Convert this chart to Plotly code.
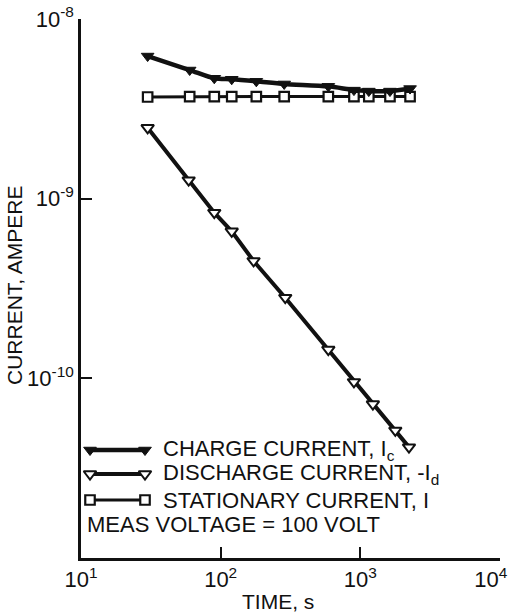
import plotly.graph_objects as go

# ---- measured data -------------------------------------------------------
# charge current I_c (filled triangles)
charge_t = [30, 60, 90, 120, 180, 285, 590, 900, 1150, 1630, 2270]
charge_i = [6.22e-9, 5.20e-9, 4.68e-9, 4.62e-9, 4.50e-9, 4.35e-9,
            4.22e-9, 4.02e-9, 3.97e-9, 3.97e-9, 4.10e-9]

# discharge current -I_d (open triangles)
discharge_t = [30, 59, 90, 120, 172, 290, 590, 900, 1230, 1780, 2230]
discharge_i = [2.48e-9, 1.267e-9, 8.36e-10, 6.58e-10, 4.50e-10, 2.81e-10,
               1.445e-10, 9.55e-11, 7.19e-11, 5.13e-11, 4.14e-11]

# stationary current I (open squares)
stationary_t = [30, 60, 90, 120, 180, 285, 590, 900, 1150, 1630, 2270]
stationary_i = [3.68e-9, 3.70e-9, 3.70e-9, 3.70e-9, 3.70e-9, 3.70e-9,
                3.70e-9, 3.70e-9, 3.70e-9, 3.70e-9, 3.70e-9]

x_tickvals = [10, 100, 1000, 10000]
# trailing no-break spaces nudge the last label in from the page edge
x_ticktext = ["10<sup>1</sup>", "10<sup>2</sup>", "10<sup>3</sup>",
              "10<sup>4</sup>\u00a0\u00a0\u00a0"]
y_tickvals = [1e-10, 1e-9, 1e-8]
y_ticktext = ["10<sup>-10</sup>", "10<sup>-9</sup>", "10<sup>-8</sup>"]

legend_labels = ["CHARGE CURRENT, I<sub>c</sub>",
                 "DISCHARGE CURRENT, -I<sub>d</sub>",
                 "STATIONARY CURRENT, I"]
note_text = "MEAS VOLTAGE = 100 VOLT"
x_title = "TIME, s"
y_title = "CURRENT, AMPERE"

# ---- styling -------------------------------------------------------------
INK = "#111111"
FONT = "Liberation Sans"
W, H = 513, 614
ML, MR, MT, MB = 81, 13, 19, 56
PW, PH = W - ML - MR, H - MT - MB


def px_to_paper(px, py):
    """Convert page pixel position to paper coordinates."""
    return (px - ML) / PW, (H - MB - py) / PH


charge_style = dict(mode="lines+markers",
                    line=dict(color=INK, width=4.5, shape="spline", smoothing=0.8),
                    marker=dict(symbol="triangle-down", size=11, color=INK,
                                line=dict(color=INK, width=1)))
discharge_style = dict(mode="lines+markers",
                       line=dict(color=INK, width=4),
                       marker=dict(symbol="triangle-down", size=11, color="white",
                                   line=dict(color=INK, width=2)))
stationary_style = dict(mode="lines+markers",
                        line=dict(color=INK, width=3),
                        marker=dict(symbol="square", size=9.5, color="white",
                                    line=dict(color=INK, width=2.2)))

fig = go.Figure()
fig.add_trace(go.Scatter(x=stationary_t, y=stationary_i, showlegend=False,
                         **stationary_style))
fig.add_trace(go.Scatter(x=charge_t, y=charge_i, showlegend=False,
                         **charge_style))
fig.add_trace(go.Scatter(x=discharge_t, y=discharge_i, showlegend=False,
                         **discharge_style))

# ---- hand-drawn style key, laid out on a pixel overlay -------------------
KEY_X = (90, 145)
KEY_ROWS = (450, 474, 500)
KEY_TEXT_X = 161
NOTE_POS = (85, 524)

key_styles = [charge_style, discharge_style, stationary_style]
for style, row in zip(key_styles, KEY_ROWS):
    s = dict(style)
    s["line"] = {k: v for k, v in style["line"].items() if k not in ("shape", "smoothing")}
    fig.add_trace(go.Scatter(x=list(KEY_X), y=[row, row], xaxis="x2", yaxis="y2",
                             showlegend=False, **s))

TEXT_FONT = dict(family=FONT, size=22, color=INK)
TITLE_FONT = dict(family=FONT, size=21, color=INK)
annotations = []
for label, row in zip(legend_labels, KEY_ROWS):
    x, y = px_to_paper(KEY_TEXT_X, row)
    annotations.append(dict(x=x, y=y, xref="paper", yref="paper", text=label,
                            showarrow=False, xanchor="left", yanchor="middle",
                            font=TEXT_FONT))
x, y = px_to_paper(*NOTE_POS)
annotations.append(dict(x=x, y=y, xref="paper", yref="paper", text=note_text,
                        showarrow=False, xanchor="left", yanchor="middle",
                        font=TEXT_FONT))
x, y = px_to_paper(278, 601)
annotations.append(dict(x=x, y=y, xref="paper", yref="paper", text=x_title,
                        showarrow=False, xanchor="center", yanchor="middle",
                        font=TITLE_FONT))
x, y = px_to_paper(14, 285)
annotations.append(dict(x=x, y=y, xref="paper", yref="paper", text=y_title,
                        showarrow=False, textangle=-90, xanchor="center",
                        yanchor="middle", font=TITLE_FONT))

axis_common = dict(showgrid=False, zeroline=False, showline=True, linecolor=INK,
                   linewidth=2.5, ticks="inside", ticklen=11, tickwidth=2,
                   tickcolor=INK, mirror=False, ticklabeloverflow="allow",
                   automargin=False,
                   tickfont=dict(family=FONT, size=22, color=INK))

fig.update_layout(
    width=W, height=H,
    margin=dict(l=ML, r=MR, t=MT, b=MB, pad=0, autoexpand=False),
    paper_bgcolor="white", plot_bgcolor="white",
    xaxis=dict(type="log", range=[1, 4], tickvals=x_tickvals, ticktext=x_ticktext,
               **axis_common),
    yaxis=dict(type="log", range=[-11, -8], tickvals=y_tickvals, ticktext=y_ticktext,
               **axis_common),
    xaxis2=dict(overlaying="x", range=[ML, W - MR], visible=False, fixedrange=True),
    yaxis2=dict(overlaying="y", range=[H - MB, MT], visible=False, fixedrange=True),
    annotations=annotations,
    showlegend=False,
)

fig.write_html("out.html")
